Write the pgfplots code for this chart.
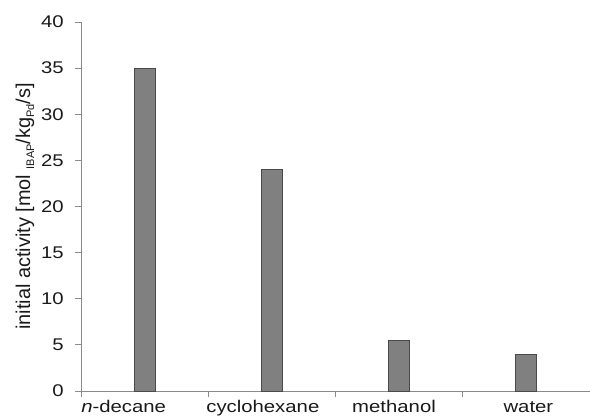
\documentclass[border=0pt]{standalone}
\usepackage{pgfplots}
\pgfplotsset{compat=1.18}
\usepackage{fontspec}
\setmainfont{Liberation Sans}
\definecolor{axgray}{HTML}{8A8A8A}
\definecolor{barfill}{HTML}{808080}
\definecolor{baredge}{HTML}{4A4A4A}
\definecolor{txt}{HTML}{1A1A1A}
\newcommand{\sx}[1]{\scalebox{1.2}[1]{#1}}
\begin{document}
\begin{tikzpicture}
\useasboundingbox (0,0) rectangle (590bp,417bp);
\begin{axis}[
  at={(81bp,26bp)}, anchor=south west,
  scale only axis, width=509bp, height=369bp,
  axis x line*=bottom, axis y line*=left,
  axis line style={axgray, line width=0.8bp},
  xmin=-0.5, xmax=3.5, ymin=0, ymax=40,
  ytick={0,5,...,40},
  xtick={-0.165,0.929,1.96,3.016},
  xticklabels={\sx{\textit{n}-decane}, \sx{cyclohexane}, \sx{methanol}, \sx{water}},
  yticklabel={\sx{\pgfmathprintnumber{\tick}}},
  minor xtick={-0.5,0.5,1.5,2.5,3.5},
  tick align=outside,
  major tick length=6bp, minor tick length=6bp,
  x tick style={draw=none},
  minor x tick style={draw=axgray, line width=0.8bp},
  y tick style={axgray, line width=0.8bp},
  tick label style={font=\fontsize{17}{19}\selectfont, text=txt, inner sep=0pt},
  /pgf/number format/assume math mode=true,
  xticklabel style={anchor=base, yshift=-15.5bp},
  yticklabel style={anchor=east, xshift=-11bp},
  ylabel={initial activity [mol \raisebox{-0.2em}{\fontsize{11}{12}\selectfont IBAP}/kg\raisebox{-0.2em}{\fontsize{11}{12}\selectfont Pd}/s]},
  ylabel style={font=\fontsize{20}{22}\selectfont, text=txt, at={(axis description cs:-0.1,0.5)}, anchor=base, inner sep=0pt},
  clip=false,
]
\addplot[ybar, bar width=21bp, fill=barfill, draw=baredge, line width=0.8bp] coordinates {(0,35) (1,24) (2,5.5) (3,4)};
\end{axis}
\end{tikzpicture}
\end{document}
